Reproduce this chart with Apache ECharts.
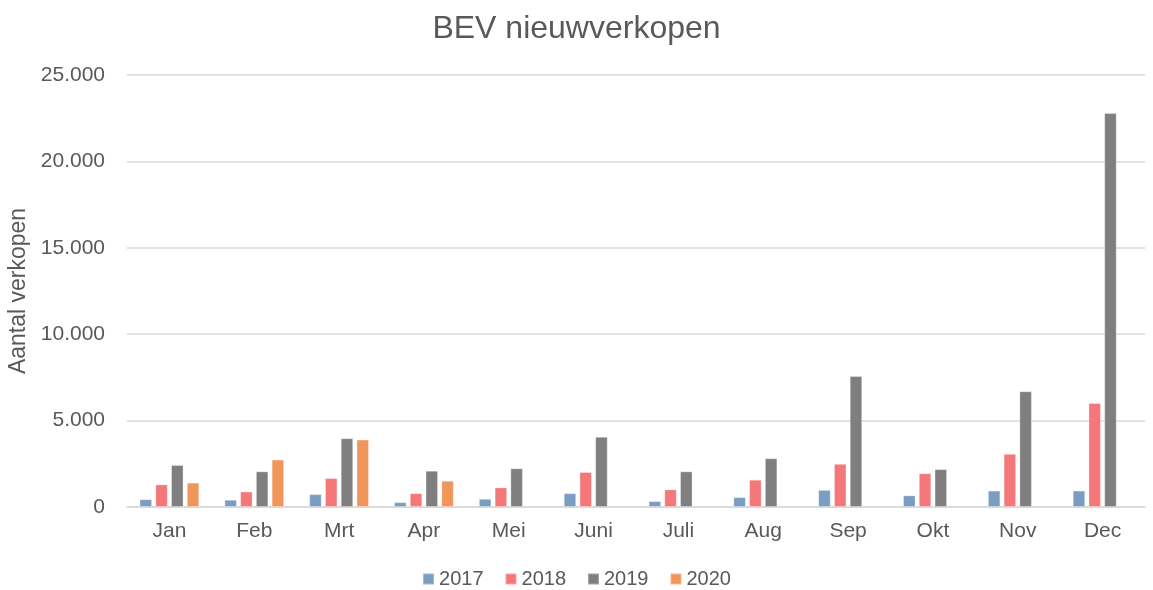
<!DOCTYPE html>
<html>
<head>
<meta charset="utf-8">
<script src="https://cdn.jsdelivr.net/npm/echarts@6/dist/echarts.min.js"></script>
<style>
  html, body { margin: 0; padding: 0; background: #fff; }
  #chart { width: 1153px; height: 590px; }
</style>
</head>
<body>
<div id="chart"></div>
<script>
const months = ['Jan', 'Feb', 'Mrt', 'Apr', 'Mei', 'Juni', 'Juli', 'Aug', 'Sep', 'Okt', 'Nov', 'Dec']
const sales2017 = [450, 420, 745, 280, 475, 800, 340, 570, 990, 675, 950, 950]
const sales2018 = [1310, 900, 1675, 800, 1135, 2025, 1020, 1580, 2500, 1955, 3080, 6020]
const sales2019 = [2430, 2065, 3980, 2100, 2240, 4060, 2065, 2820, 7575, 2190, 6700, 22800]
const sales2020 = [1410, 2745, 3905, 1520, null, null, null, null, null, null, null, null]

const colors = ['#7A9DC1', '#F4787A', '#7F7F7F', '#F0965B']
const textColor = '#595959'

function fmt (v) {
  return String(v).replace(/\B(?=(\d{3})+(?!\d))/g, '.')
}

function bar (name, data, color) {
  return {
    name,
    type: 'bar',
    data,
    barWidth: 12.5,
    barGap: '26%',
    itemStyle: { color, borderColor: 'rgba(255,255,255,0.3)', borderWidth: 1 }
  }
}

const chart = echarts.init(document.getElementById('chart'))
chart.setOption({
  animation: false,
  textStyle: { fontFamily: 'Liberation Sans, Arial, sans-serif' },
  title: {
    text: 'BEV nieuwverkopen',
    left: 'center',
    top: 8,
    textStyle: { fontSize: 32, fontWeight: 'normal', color: textColor }
  },
  legend: {
    top: 564,
    left: 'center',
    itemWidth: 11,
    itemHeight: 11,
    itemGap: 21,
    icon: 'rect',
    textStyle: { fontSize: 20, color: textColor, padding: [0, 0, 0, 0] }
  },
  grid: { left: 127, right: 8, top: 75, bottom: 83, containLabel: false, outerBoundsMode: 'none' },
  xAxis: {
    type: 'category',
    data: months,
    axisLine: { lineStyle: { color: '#D9D9D9', width: 1.5 } },
    axisTick: { show: false },
    axisLabel: { fontSize: 21, color: textColor, margin: 14 }
  },
  yAxis: {
    type: 'value',
    min: 0,
    max: 25000,
    interval: 5000,
    name: 'Aantal verkopen',
    nameLocation: 'middle',
    nameGap: 96,
    nameTextStyle: { fontSize: 23, color: textColor },
    axisLine: { show: false },
    axisTick: { show: false },
    splitLine: { lineStyle: { color: '#D9D9D9', width: 1.5 } },
    axisLabel: { fontSize: 21, color: textColor, margin: 22, formatter: fmt }
  },
  series: [
    bar('2017', sales2017, colors[0]),
    bar('2018', sales2018, colors[1]),
    bar('2019', sales2019, colors[2]),
    bar('2020', sales2020, colors[3])
  ]
})
</script>
</body>
</html>
